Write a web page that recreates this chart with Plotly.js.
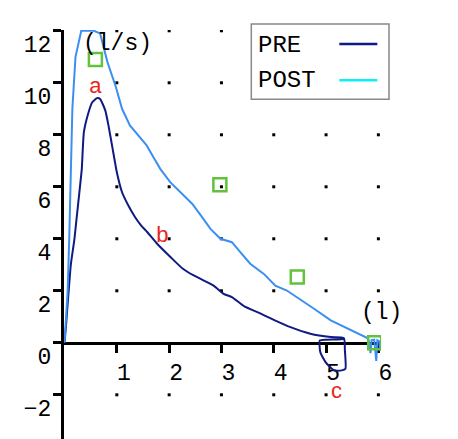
<!DOCTYPE html>
<html><head><meta charset="utf-8">
<script src="https://cdn.plot.ly/plotly-3.0.1.min.js"></script>
<style>html,body{margin:0;padding:0;background:#fff}#chart{width:458px;height:439px}</style>
</head><body><div id="chart"></div>
<script>
// Flow-volume data (volume in l, flow in l/s)
const preVolume = [0, 0.03, 0.06, 0.08, 0.12, 0.19, 0.23, 0.29, 0.33, 0.37, 0.45, 0.53, 0.62, 0.68, 0.78, 0.84, 0.92, 1.00, 1.10, 1.22, 1.35, 1.47, 1.58, 1.77, 2.03, 2.25, 2.47, 2.60, 2.85, 3.04, 3.20, 3.43, 3.75, 4.00, 4.32, 4.70, 5.09, 5.34, 5.36, 5.37, 5.30, 5.15, 4.99, 4.89, 4.88, 5.00, 5.20, 5.33];
const preFlow   = [0, 0.7, 1.5, 2.0, 3.0, 4.0, 4.77, 5.9, 6.69, 8.1, 8.8, 9.25, 9.41, 9.38, 8.93, 8.36, 7.46, 6.56, 5.79, 5.28, 4.83, 4.50, 4.26, 3.81, 3.29, 2.87, 2.59, 2.46, 2.20, 1.88, 1.76, 1.41, 1.12, 0.88, 0.60, 0.35, 0.22, 0.18, -0.30, -1.00, -1.06, -1.06, -0.74, -0.36, 0.09, 0.12, 0.13, 0.15];
const postVolume = [0, 0.03, 0.06, 0.09, 0.115, 0.15, 0.21, 0.32, 0.45, 0.56, 0.68, 0.82, 0.98, 1.10, 1.25, 1.41, 1.57, 1.70, 1.83, 2.02, 2.24, 2.44, 2.63, 2.79, 2.98, 3.20, 3.36, 3.55, 3.81, 4.03, 4.25, 4.44, 4.77, 5.09, 5.41, 5.79, 5.82, 5.85, 5.87, 5.92, 5.96, 5.98, 6.02, 6.03, 6.04];
const postFlow   = [0, 0.9, 2.0, 4.0, 6.7, 9.0, 11.0, 12.0, 12.0, 12.0, 11.9, 10.8, 9.85, 9.0, 8.36, 7.97, 7.59, 7.14, 6.69, 6.18, 5.73, 5.35, 4.83, 4.38, 4.00, 3.87, 3.49, 3.04, 2.65, 2.20, 2.01, 1.76, 1.31, 0.86, 0.54, 0.18, 0.05, -0.40, 0.10, 0.12, -0.70, 0.10, 0.05, -0.30, 0.10];
const refVolume = [0.59, 2.97, 4.45, 5.93];
const refFlow   = [10.9, 6.08, 2.53, 0.0];
const noteText   = ['a', 'b', 'c'];
const noteVolume = [0.59, 1.87, 5.20];
const noteFlow   = [9.8, 4.1, -1.93];
const xTicks = [1, 2, 3, 4, 5, 6];
const yTicks = [-2, 0, 2, 4, 6, 8, 10, 12];
const dotX = [1, 2, 3, 4, 5, 6];
const dotY = [-2, 2, 4, 6, 8, 10, 12];
const seriesNames = ['PRE', 'POST'];

const W = 458, H = 439, ML = 64, MR = 77, MT = 30, MB = 0;
const PW = W - ML - MR, PH = H - MT - MB;
const xRange = [-0.01, 6.05];
const yRange = [-3.70, 12.03];
const PX = p => (p - ML) / PW;
const PY = p => (H - MB - p) / PH;

const gx = [], gy = [];
dotY.forEach(y => dotX.forEach(x => { gx.push(x); gy.push(y); }));

const mono = 'Liberation Mono, Courier New, monospace';
const PRE_C = '#0f1a82', POST_C = '#3b8ff2', POST_KEY = '#10eefa';

const traces = [
  {x: gx, y: gy, mode: 'markers', marker: {symbol: 'square', size: 3, color: '#000'}, hoverinfo: 'skip'},
  {x: preVolume, y: preFlow, mode: 'lines', name: seriesNames[0], line: {color: PRE_C, width: 2, shape: 'spline', smoothing: 0.5}},
  {x: postVolume, y: postFlow, mode: 'lines', name: seriesNames[1], line: {color: POST_C, width: 2}},
  {x: refVolume, y: refFlow, mode: 'markers', marker: {symbol: 'square-open', size: 13, color: '#62c23c', line: {width: 2.5, color: '#62c23c'}}},
  {x: noteVolume, y: noteFlow, mode: 'text', text: noteText, textposition: 'middle center', textfont: {family: 'Liberation Sans, Arial, sans-serif', size: 22, color: '#e8261c'}, cliponaxis: false}
];

const layout = {
  width: W, height: H, margin: {l: ML, r: MR, t: MT, b: MB},
  paper_bgcolor: '#fff', plot_bgcolor: '#fff', showlegend: false,
  xaxis: {range: xRange, anchor: 'free', position: -yRange[0] / (yRange[1] - yRange[0]),
    showline: true, linewidth: 3, linecolor: '#000', ticks: 'outside', ticklen: 8, tickwidth: 3, tickcolor: '#000',
    tickmode: 'array', tickvals: xTicks, tickfont: {family: mono, size: 23, color: '#000'},
    ticklabelshift: 7, ticklabelstandoff: 0, showgrid: false, zeroline: false, layer: 'below traces', fixedrange: true},
  yaxis: {range: yRange, showline: true, linewidth: 3, linecolor: '#000', ticks: 'outside', ticklen: 8, tickwidth: 3, tickcolor: '#000',
    tickmode: 'array', tickvals: yTicks, tickfont: {family: mono, size: 23, color: '#000'},
    ticklabelshift: 13, ticklabelstandoff: -3, showgrid: false, zeroline: false, layer: 'below traces', fixedrange: true},
  shapes: [
    {type: 'rect', xref: 'paper', yref: 'paper', x0: PX(251.3), x1: PX(389), y0: PY(99.3), y1: PY(24), fillcolor: '#fff', line: {color: '#888', width: 1.5}, layer: 'above'},
    {type: 'line', xref: 'paper', yref: 'paper', x0: PX(339.3), x1: PX(377.3), y0: PY(44), y1: PY(44), line: {color: PRE_C, width: 2.5}, layer: 'above'},
    {type: 'line', xref: 'paper', yref: 'paper', x0: PX(339.3), x1: PX(377.3), y0: PY(80.3), y1: PY(80.3), line: {color: POST_KEY, width: 2.5}, layer: 'above'}
  ],
  annotations: [
    {xref: 'paper', yref: 'paper', x: PX(256), y: PY(46), xanchor: 'left', yanchor: 'middle', text: seriesNames[0], showarrow: false, font: {family: mono, size: 24, color: '#000'}},
    {xref: 'paper', yref: 'paper', x: PX(256), y: PY(81), xanchor: 'left', yanchor: 'middle', text: seriesNames[1], showarrow: false, font: {family: mono, size: 24, color: '#000'}},
    {xref: 'paper', yref: 'paper', x: PX(81), y: PY(44), xanchor: 'left', yanchor: 'middle', text: '(l/s)', showarrow: false, font: {family: mono, size: 23, color: '#000'}},
    {xref: 'paper', yref: 'paper', x: PX(359), y: PY(313), xanchor: 'left', yanchor: 'middle', text: '(l)', showarrow: false, font: {family: mono, size: 23, color: '#000'}}
  ]
};

Plotly.newPlot('chart', traces, layout, {staticPlot: true, displayModeBar: false});
</script>
</body></html>
